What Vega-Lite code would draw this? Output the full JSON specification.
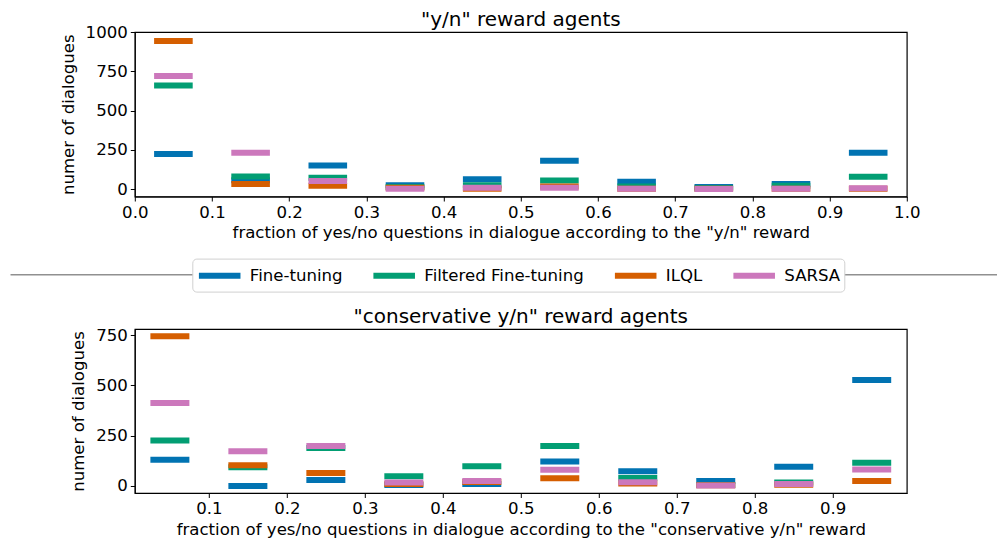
{
  "$schema": "https://vega.github.io/schema/vega-lite/v6.json",
  "padding": {"left": 8.8, "top": 9, "right": 0, "bottom": 0},
  "background": "white",
  "data": {"values": [
    {"panel": "yn", "series": "Fine-tuning", "lo": 0.025, "hi": 0.075, "count": 223},
    {"panel": "yn", "series": "Fine-tuning", "lo": 0.125, "hi": 0.175, "count": 57},
    {"panel": "yn", "series": "Fine-tuning", "lo": 0.225, "hi": 0.275, "count": 151},
    {"panel": "yn", "series": "Fine-tuning", "lo": 0.325, "hi": 0.375, "count": 24},
    {"panel": "yn", "series": "Fine-tuning", "lo": 0.425, "hi": 0.475, "count": 62},
    {"panel": "yn", "series": "Fine-tuning", "lo": 0.525, "hi": 0.575, "count": 181},
    {"panel": "yn", "series": "Fine-tuning", "lo": 0.625, "hi": 0.675, "count": 47},
    {"panel": "yn", "series": "Fine-tuning", "lo": 0.725, "hi": 0.775, "count": 13},
    {"panel": "yn", "series": "Fine-tuning", "lo": 0.825, "hi": 0.875, "count": 32},
    {"panel": "yn", "series": "Fine-tuning", "lo": 0.925, "hi": 0.975, "count": 232},
    {"panel": "yn", "series": "Filtered Fine-tuning", "lo": 0.025, "hi": 0.075, "count": 659},
    {"panel": "yn", "series": "Filtered Fine-tuning", "lo": 0.125, "hi": 0.175, "count": 81},
    {"panel": "yn", "series": "Filtered Fine-tuning", "lo": 0.225, "hi": 0.275, "count": 73},
    {"panel": "yn", "series": "Filtered Fine-tuning", "lo": 0.325, "hi": 0.375, "count": 14},
    {"panel": "yn", "series": "Filtered Fine-tuning", "lo": 0.425, "hi": 0.475, "count": 24},
    {"panel": "yn", "series": "Filtered Fine-tuning", "lo": 0.525, "hi": 0.575, "count": 55},
    {"panel": "yn", "series": "Filtered Fine-tuning", "lo": 0.625, "hi": 0.675, "count": 17},
    {"panel": "yn", "series": "Filtered Fine-tuning", "lo": 0.725, "hi": 0.775, "count": 5},
    {"panel": "yn", "series": "Filtered Fine-tuning", "lo": 0.825, "hi": 0.875, "count": 21},
    {"panel": "yn", "series": "Filtered Fine-tuning", "lo": 0.925, "hi": 0.975, "count": 79},
    {"panel": "yn", "series": "ILQL", "lo": 0.025, "hi": 0.075, "count": 943},
    {"panel": "yn", "series": "ILQL", "lo": 0.125, "hi": 0.175, "count": 32},
    {"panel": "yn", "series": "ILQL", "lo": 0.225, "hi": 0.275, "count": 22},
    {"panel": "yn", "series": "ILQL", "lo": 0.325, "hi": 0.375, "count": 8},
    {"panel": "yn", "series": "ILQL", "lo": 0.425, "hi": 0.475, "count": 2},
    {"panel": "yn", "series": "ILQL", "lo": 0.525, "hi": 0.575, "count": 17},
    {"panel": "yn", "series": "ILQL", "lo": 0.625, "hi": 0.675, "count": 2},
    {"panel": "yn", "series": "ILQL", "lo": 0.725, "hi": 0.775, "count": 2},
    {"panel": "yn", "series": "ILQL", "lo": 0.825, "hi": 0.875, "count": 2},
    {"panel": "yn", "series": "ILQL", "lo": 0.925, "hi": 0.975, "count": 2},
    {"panel": "yn", "series": "SARSA", "lo": 0.025, "hi": 0.075, "count": 720},
    {"panel": "yn", "series": "SARSA", "lo": 0.125, "hi": 0.175, "count": 232},
    {"panel": "yn", "series": "SARSA", "lo": 0.225, "hi": 0.275, "count": 51},
    {"panel": "yn", "series": "SARSA", "lo": 0.325, "hi": 0.375, "count": 2},
    {"panel": "yn", "series": "SARSA", "lo": 0.425, "hi": 0.475, "count": 9},
    {"panel": "yn", "series": "SARSA", "lo": 0.525, "hi": 0.575, "count": 8},
    {"panel": "yn", "series": "SARSA", "lo": 0.625, "hi": 0.675, "count": 2},
    {"panel": "yn", "series": "SARSA", "lo": 0.725, "hi": 0.775, "count": 1},
    {"panel": "yn", "series": "SARSA", "lo": 0.825, "hi": 0.875, "count": 2},
    {"panel": "yn", "series": "SARSA", "lo": 0.925, "hi": 0.975, "count": 5},
    {"panel": "cons", "series": "Fine-tuning", "lo": 0.025, "hi": 0.075, "count": 130},
    {"panel": "cons", "series": "Fine-tuning", "lo": 0.125, "hi": 0.175, "count": 0},
    {"panel": "cons", "series": "Fine-tuning", "lo": 0.225, "hi": 0.275, "count": 30},
    {"panel": "cons", "series": "Fine-tuning", "lo": 0.325, "hi": 0.375, "count": 5},
    {"panel": "cons", "series": "Fine-tuning", "lo": 0.425, "hi": 0.475, "count": 10},
    {"panel": "cons", "series": "Fine-tuning", "lo": 0.525, "hi": 0.575, "count": 121},
    {"panel": "cons", "series": "Fine-tuning", "lo": 0.625, "hi": 0.675, "count": 73},
    {"panel": "cons", "series": "Fine-tuning", "lo": 0.725, "hi": 0.775, "count": 25},
    {"panel": "cons", "series": "Fine-tuning", "lo": 0.825, "hi": 0.875, "count": 96},
    {"panel": "cons", "series": "Fine-tuning", "lo": 0.925, "hi": 0.975, "count": 526},
    {"panel": "cons", "series": "Filtered Fine-tuning", "lo": 0.025, "hi": 0.075, "count": 226},
    {"panel": "cons", "series": "Filtered Fine-tuning", "lo": 0.125, "hi": 0.175, "count": 93},
    {"panel": "cons", "series": "Filtered Fine-tuning", "lo": 0.225, "hi": 0.275, "count": 189},
    {"panel": "cons", "series": "Filtered Fine-tuning", "lo": 0.325, "hi": 0.375, "count": 48},
    {"panel": "cons", "series": "Filtered Fine-tuning", "lo": 0.425, "hi": 0.475, "count": 98},
    {"panel": "cons", "series": "Filtered Fine-tuning", "lo": 0.525, "hi": 0.575, "count": 199},
    {"panel": "cons", "series": "Filtered Fine-tuning", "lo": 0.625, "hi": 0.675, "count": 40},
    {"panel": "cons", "series": "Filtered Fine-tuning", "lo": 0.725, "hi": 0.775, "count": 5},
    {"panel": "cons", "series": "Filtered Fine-tuning", "lo": 0.825, "hi": 0.875, "count": 17},
    {"panel": "cons", "series": "Filtered Fine-tuning", "lo": 0.925, "hi": 0.975, "count": 115},
    {"panel": "cons", "series": "ILQL", "lo": 0.025, "hi": 0.075, "count": 744},
    {"panel": "cons", "series": "ILQL", "lo": 0.125, "hi": 0.175, "count": 103},
    {"panel": "cons", "series": "ILQL", "lo": 0.225, "hi": 0.275, "count": 65},
    {"panel": "cons", "series": "ILQL", "lo": 0.325, "hi": 0.375, "count": 10},
    {"panel": "cons", "series": "ILQL", "lo": 0.425, "hi": 0.475, "count": 20},
    {"panel": "cons", "series": "ILQL", "lo": 0.525, "hi": 0.575, "count": 38},
    {"panel": "cons", "series": "ILQL", "lo": 0.625, "hi": 0.675, "count": 12},
    {"panel": "cons", "series": "ILQL", "lo": 0.725, "hi": 0.775, "count": 3},
    {"panel": "cons", "series": "ILQL", "lo": 0.825, "hi": 0.875, "count": 6},
    {"panel": "cons", "series": "ILQL", "lo": 0.925, "hi": 0.975, "count": 25},
    {"panel": "cons", "series": "SARSA", "lo": 0.025, "hi": 0.075, "count": 412},
    {"panel": "cons", "series": "SARSA", "lo": 0.125, "hi": 0.175, "count": 173},
    {"panel": "cons", "series": "SARSA", "lo": 0.225, "hi": 0.275, "count": 199},
    {"panel": "cons", "series": "SARSA", "lo": 0.325, "hi": 0.375, "count": 17},
    {"panel": "cons", "series": "SARSA", "lo": 0.425, "hi": 0.475, "count": 25},
    {"panel": "cons", "series": "SARSA", "lo": 0.525, "hi": 0.575, "count": 80},
    {"panel": "cons", "series": "SARSA", "lo": 0.625, "hi": 0.675, "count": 18},
    {"panel": "cons", "series": "SARSA", "lo": 0.725, "hi": 0.775, "count": 2},
    {"panel": "cons", "series": "SARSA", "lo": 0.825, "hi": 0.875, "count": 10},
    {"panel": "cons", "series": "SARSA", "lo": 0.925, "hi": 0.975, "count": 82}
  ]},
  "spacing": 16,
  "vconcat": [
    {
      "width": 772,
      "height": 164.5,
      "title": {"text": "\"y/n\" reward agents", "offset": -5.6},
      "transform": [{"filter": "datum.panel == 'yn'"}],
      "mark": {"type": "rule", "strokeWidth": 6, "strokeCap": "butt"},
      "encoding": {
        "x": {"field": "lo", "type": "quantitative",
              "scale": {"domain": [0, 1], "nice": false, "zero": false},
              "axis": {"values": [0, 0.1, 0.2, 0.3, 0.4, 0.5, 0.6, 0.7, 0.8, 0.9, 1.0], "format": ".1f",
                       "title": "fraction of yes/no questions in dialogue according to the \"y/n\" reward"}},
        "x2": {"field": "hi"},
        "y": {"field": "count", "type": "quantitative",
              "scale": {"domain": [-47, 1000], "nice": false, "zero": false},
              "axis": {"values": [0, 250, 500, 750, 1000], "format": "d", "title": "numer of dialogues", "titlePadding": 9}},
        "color": {"field": "series", "type": "nominal",
                  "scale": {"domain": ["Fine-tuning", "Filtered Fine-tuning", "ILQL", "SARSA"],
                            "range": ["#0173b2", "#029e73", "#d55e00", "#cc78bc"]},
                  "legend": {"orient": "none", "legendX": 57.5, "legendY": 226.6, "direction": "horizontal", "columns": 4,
                             "title": null, "symbolType": "M-1,0H3", "symbolStrokeWidth": 6, "symbolSize": 432,
                             "labelFontSize": 16.6, "labelColor": "black", "labelOffset": 27, "columnPadding": 18.5,
                             "fillColor": "white", "strokeColor": "#d0d0d0", "cornerRadius": 4, "padding": 3.5,
                             "labelLimit": 400}}
      }
    },
    {
      "width": 772,
      "height": 31,
      "view": {"stroke": null},
      "data": {"values": [{"line": "separator"}]},
      "mark": {"type": "rule", "color": "#909090", "strokeWidth": 1.6},
      "encoding": {
        "x": {"datum": -0.161, "type": "quantitative", "scale": {"domain": [0, 1], "nice": false, "zero": false}, "axis": null},
        "x2": {"datum": 1.125},
        "y": {"datum": 0.46, "type": "quantitative", "scale": {"domain": [0, 1], "nice": false, "zero": false}, "axis": null}
      }
    },
    {
      "width": 772,
      "height": 164,
      "title": {"text": "\"conservative y/n\" reward agents", "offset": 0.5},
      "transform": [{"filter": "datum.panel == 'cons'"}],
      "mark": {"type": "rule", "strokeWidth": 6, "strokeCap": "butt"},
      "encoding": {
        "x": {"field": "lo", "type": "quantitative",
              "scale": {"domain": [0.005, 0.995], "nice": false, "zero": false},
              "axis": {"values": [0.1, 0.2, 0.3, 0.4, 0.5, 0.6, 0.7, 0.8, 0.9], "format": ".1f",
                       "title": "fraction of yes/no questions in dialogue according to the \"conservative y/n\" reward"}},
        "x2": {"field": "hi"},
        "y": {"field": "count", "type": "quantitative",
              "scale": {"domain": [-35, 780], "nice": false, "zero": false},
              "axis": {"values": [0, 250, 500, 750], "format": "d", "title": "numer of dialogues", "titlePadding": 9}},
        "color": {"field": "series", "type": "nominal",
                  "scale": {"domain": ["Fine-tuning", "Filtered Fine-tuning", "ILQL", "SARSA"],
                            "range": ["#0173b2", "#029e73", "#d55e00", "#cc78bc"]},
                  "legend": {"orient": "none", "legendX": 57.5, "legendY": 226.6, "direction": "horizontal", "columns": 4,
                             "title": null, "symbolType": "M-1,0H3", "symbolStrokeWidth": 6, "symbolSize": 432,
                             "labelFontSize": 16.6, "labelColor": "black", "labelOffset": 27, "columnPadding": 18.5,
                             "fillColor": "white", "strokeColor": "#d0d0d0", "cornerRadius": 4, "padding": 3.5,
                             "labelLimit": 400}}
      }
    }
  ],
  "config": {
    "font": "DejaVu Sans",
    "view": {"stroke": "black", "strokeWidth": 1.2},
    "title": {"fontSize": 20, "fontWeight": "normal", "color": "black", "font": "DejaVu Sans"},
    "axis": {"grid": false, "labelFontSize": 16.6, "titleFontSize": 16.6, "titleFontWeight": "normal",
             "labelColor": "black", "titleColor": "black", "tickColor": "black", "domainColor": "black",
             "tickSize": 4.5, "labelPadding": 3, "labelFont": "DejaVu Sans", "titleFont": "DejaVu Sans",
             "labelFlush": false, "labelOverlap": false},
    "legend": {"labelFont": "DejaVu Sans"}
  }
}
